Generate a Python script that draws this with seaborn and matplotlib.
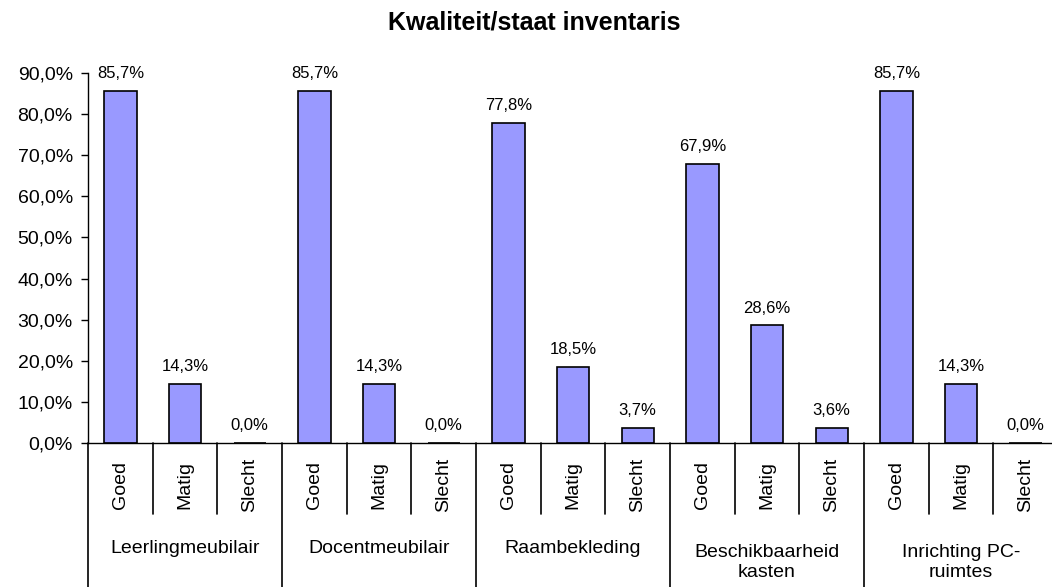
import pandas as pd
import matplotlib.pyplot as plt
import matplotlib.transforms as mtransforms
from matplotlib.ticker import FuncFormatter, MultipleLocator
import seaborn as sns


groups = ["Leerlingmeubilair", "Docentmeubilair", "Raambekleding",
          "Beschikbaarheid\nkasten", "Inrichting PC-\nruimtes"]
ratings = ["Goed", "Matig", "Slecht"]

goed = [85.7, 85.7, 77.8, 67.9, 85.7]
matig = [14.3, 14.3, 18.5, 28.6, 14.3]
slecht = [0.0, 0.0, 3.7, 3.6, 0.0]

BAR_COLOR = "#9999FF"


def build_frame():
    rows = []
    for g, vals in zip(groups, zip(goed, matig, slecht)):
        for r, v in zip(ratings, vals):
            rows.append({"group": g, "rating": r, "key": f"{g}|{r}", "value": v})
    return pd.DataFrame(rows)


def pct(v, _pos=None):
    return f"{v:.1f}%".replace(".", ",")


def main():
    sns.set_style("ticks")
    plt.rcParams["font.family"] = ["Liberation Sans", "DejaVu Sans"]
    plt.rcParams["text.color"] = "black"
    plt.rcParams["xtick.color"] = "black"
    plt.rcParams["ytick.color"] = "black"
    plt.rcParams["axes.labelcolor"] = "black"

    df = build_frame()

    fig = plt.figure(figsize=(10.52, 5.87), dpi=100)
    ax = fig.add_axes([0.0837, 0.2453, 0.922, 0.6303])

    sns.barplot(
        data=df, x="key", y="value", order=df["key"].tolist(),
        color=BAR_COLOR, saturation=1, edgecolor="black",
        linewidth=1.2, width=0.5, ax=ax
    )

    ax.set_xlim(-0.5, len(df) - 0.5)
    ax.set_ylim(0, 90)
    ax.yaxis.set_major_locator(MultipleLocator(10))
    ax.yaxis.set_major_formatter(FuncFormatter(pct))
    ax.tick_params(axis="y", labelsize=14, length=5, width=1, pad=6,
                   colors="black", labelcolor="black")
    ax.set_xticks([])
    ax.set_xlabel("")
    ax.set_ylabel("")
    sns.despine(ax=ax, top=True, right=True)
    for side in ["left", "bottom"]:
        ax.spines[side].set_linewidth(1.0)
        ax.spines[side].set_color("black")

    # value labels
    for i, v in enumerate(df["value"]):
        ax.annotate(pct(v), (i, v), xytext=(0, 7), textcoords="offset points",
                    ha="center", va="bottom", fontsize=12, color="black")

    # multi-level category axis
    trans = mtransforms.blended_transform_factory(ax.transData, ax.transAxes)
    for i, r in enumerate(df["rating"]):
        ax.text(i, -0.1135, r, rotation=90, ha="center", va="center",
                fontsize=14, color="black", transform=trans)
    for i in range(len(df) + 1):
        x = i - 0.5
        y_end = -0.45 if i % 3 == 0 else -0.192
        ax.plot([x, x], [0, y_end], color="black", lw=1.2,
                transform=trans, clip_on=False)
    for gi, g in enumerate(groups):
        y = -0.323 if "\n" in g else -0.284
        ax.text(gi * 3 + 1, y, g, ha="center", va="center", fontsize=14,
                linespacing=1.25, color="black", transform=trans)

    fig.text(534 / 1052, 0.962, "Kwaliteit/staat inventaris", ha="center",
             va="center", fontsize=18, fontweight="bold", color="black")

    fig.savefig("out.png", dpi=100)
    plt.close(fig)


if __name__ == "__main__":
    main()
